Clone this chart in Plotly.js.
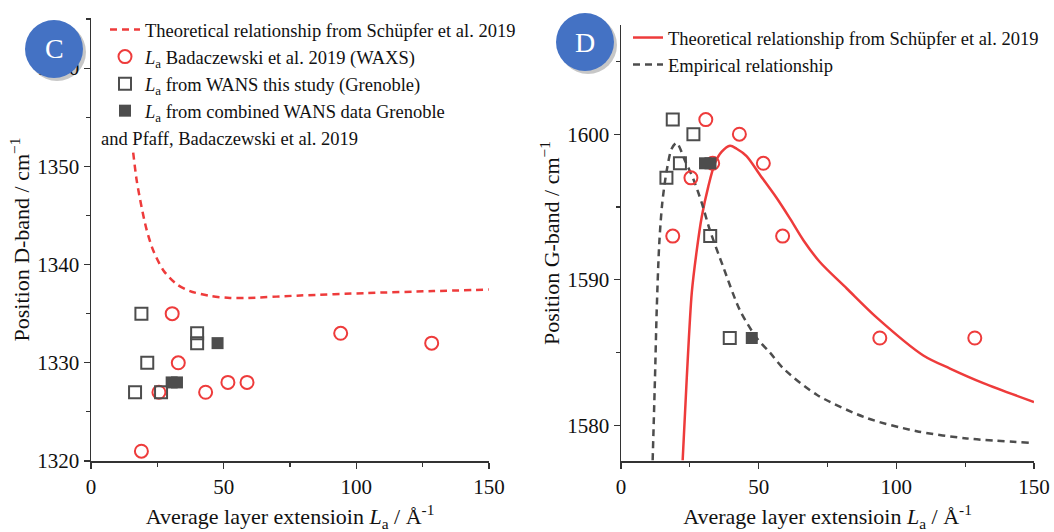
<!DOCTYPE html>
<html><head><meta charset="utf-8">
<script src="https://cdn.plot.ly/plotly-3.0.1.min.js"></script>
<style>html,body{margin:0;padding:0;background:#fff;}#chart{width:1054px;height:532px;}</style>
</head><body><div id="chart"></div>
<script>
// ---------- Panel C: D-band ----------
const dTheoX = [15.9, 17.2, 19.1, 21.0, 23.5, 27.3, 32.3, 37.3, 44.9, 52.4, 58.7, 78.8, 103.9, 129, 150];
const dTheoY = [1351.4, 1348.6, 1345.8, 1343.5, 1341.4, 1339.4, 1338.0, 1337.3, 1336.8, 1336.6, 1336.6, 1336.85, 1337.1, 1337.3, 1337.45];
const dWaxsX = [19.0, 25.6, 30.6, 32.9, 43.2, 51.6, 58.8, 94.1, 128.4];
const dWaxsY = [1321, 1327, 1335, 1330, 1327, 1328, 1328, 1333, 1332];
const dWansX = [16.6, 19.0, 21.2, 26.4, 40.0, 40.0];
const dWansY = [1327, 1335, 1330, 1327, 1333, 1332];
const dCombX = [30.4, 32.4, 47.7];
const dCombY = [1328, 1328, 1332];

// ---------- Panel D: G-band ----------
const gTheoX = [22.4, 23.9, 25.7, 27.5, 29.3, 31.7, 34.1, 36.6, 39.6, 42.0, 45.6, 50.5, 56.6, 61.4, 66.3, 72.3, 82.0, 92.9, 109.8, 119.5, 131.6, 150];
const gTheoY = [1577.6, 1583.3, 1589.1, 1592.0, 1594.3, 1596.4, 1598.0, 1598.8, 1599.2, 1599.0, 1598.5, 1597.2, 1595.6, 1594.2, 1592.7, 1591.2, 1589.4, 1587.4, 1584.8, 1583.9, 1582.9, 1581.6];
const gEmpX = [11.5, 12.35, 12.97, 13.9, 15.0, 16.6, 18.4, 20.2, 23.2, 26.3, 29.3, 32.3, 37.1, 43.2, 49.3, 54.1, 59.0, 71.1, 89.3, 107.4, 125.6, 148.6];
const gEmpY = [1577.6, 1583.3, 1587.9, 1592.5, 1595.3, 1597.5, 1599.0, 1599.4, 1598.2, 1596.9, 1595.3, 1593.4, 1590.9, 1587.9, 1586.0, 1585.0, 1583.9, 1582.1, 1580.5, 1579.6, 1579.1, 1578.8];
const gWaxsX = [18.8, 25.4, 30.8, 33.3, 43.0, 51.7, 58.7, 94.0, 128.5];
const gWaxsY = [1593, 1597, 1601, 1598, 1600, 1598, 1593, 1586, 1586];
const gWansX = [16.5, 18.8, 21.4, 26.3, 32.4, 39.5];
const gWansY = [1597, 1601, 1598, 1600, 1593, 1586];
const gCombX = [30.5, 32.5, 47.5];
const gCombY = [1598, 1598, 1586];

const RED = '#EE3B3B';
const GRAY = '#4D4D4D';
const FONT = 'Liberation Serif, Times New Roman, serif';

const circ = {symbol: 'circle-open', size: 13, color: RED, line: {width: 2, color: RED}};
const sqOpen = {symbol: 'square-open', size: 12, color: GRAY, line: {width: 2, color: GRAY}};
const sqFill = {symbol: 'square', size: 12, color: GRAY, line: {width: 0}};

const traces = [
  {x: dTheoX, y: dTheoY, mode: 'lines', line: {color: RED, width: 2.5, dash: '7px,5px', shape: 'spline', smoothing: 0.8},
   name: 'Theoretical relationship from Schüpfer et al. 2019', xaxis: 'x', yaxis: 'y', legend: 'legend', legendgroup: 'a'},
  {x: dWaxsX, y: dWaxsY, mode: 'markers', marker: circ,
   name: '<i>L</i><sub>a</sub> Badaczewski et al. 2019 (WAXS)', xaxis: 'x', yaxis: 'y', legend: 'legend', legendgroup: 'b'},
  {x: dWansX, y: dWansY, mode: 'markers', marker: sqOpen,
   name: '<i>L</i><sub>a</sub> from WANS this study (Grenoble)', xaxis: 'x', yaxis: 'y', legend: 'legend', legendgroup: 'c'},
  {x: dCombX, y: dCombY, mode: 'markers', marker: sqFill,
   name: '<i>L</i><sub>a</sub> from combined WANS data Grenoble', xaxis: 'x', yaxis: 'y', legend: 'legend', legendgroup: 'd'},

  {x: gTheoX, y: gTheoY, mode: 'lines', line: {color: RED, width: 2.5, shape: 'spline', smoothing: 0.8},
   name: 'Theoretical relationship from Schüpfer et al. 2019', xaxis: 'x2', yaxis: 'y2', legend: 'legend2', legendgroup: 'e'},
  {x: gEmpX, y: gEmpY, mode: 'lines', line: {color: GRAY, width: 2.5, dash: '7px,5px', shape: 'spline', smoothing: 0.8},
   name: 'Empirical relationship', xaxis: 'x2', yaxis: 'y2', legend: 'legend2', legendgroup: 'f'},
  {x: gWaxsX, y: gWaxsY, mode: 'markers', marker: circ, showlegend: false, xaxis: 'x2', yaxis: 'y2'},
  {x: gWansX, y: gWansY, mode: 'markers', marker: sqOpen, showlegend: false, xaxis: 'x2', yaxis: 'y2'},
  {x: gCombX, y: gCombY, mode: 'markers', marker: sqFill, showlegend: false, xaxis: 'x2', yaxis: 'y2'}
];

const W = 1054, H = 532;
const px = v => v / W, py = v => 1 - v / H;

const axCommon = {
  showgrid: false, zeroline: false, showline: true, linecolor: '#333', linewidth: 1.5,
  ticks: 'outside', ticklen: 6, tickwidth: 1.2, tickcolor: '#333',
  tickfont: {family: FONT, size: 21, color: '#111'},
  minor: {ticks: 'outside', ticklen: 4, tickwidth: 1.2, tickcolor: '#333', showgrid: false}
};

const xTitle = {text: 'Average layer extensioin <i>L</i><sub>a</sub> / Å<sup>-1</sup>', font: {family: FONT, size: 22, color: '#111'}, standoff: 14};

const layout = {
  width: W, height: H, margin: {l: 0, r: 0, t: 0, b: 0},
  paper_bgcolor: '#fff', plot_bgcolor: '#fff',
  font: {family: FONT, color: '#111'},
  xaxis: Object.assign({}, axCommon, {domain: [px(91), px(489)], range: [0, 150], dtick: 50, tick0: 0,
    minor: Object.assign({}, axCommon.minor, {dtick: 25}), anchor: 'y', title: xTitle}),
  yaxis: Object.assign({}, axCommon, {domain: [py(461), py(18)], range: [1320, 1365.1], dtick: 10, tick0: 1320,
    minor: Object.assign({}, axCommon.minor, {dtick: 5}), anchor: 'x',
    title: {text: 'Position D-band / cm<sup>−1</sup>', font: {family: FONT, size: 22, color: '#111'}, standoff: 1}}),
  xaxis2: Object.assign({}, axCommon, {domain: [px(621), px(1034)], range: [0, 150], dtick: 50, tick0: 0,
    minor: Object.assign({}, axCommon.minor, {dtick: 25}), anchor: 'y2', title: xTitle}),
  yaxis2: Object.assign({}, axCommon, {domain: [py(461), py(25)], range: [1577.55, 1607.5], dtick: 10, tick0: 1580,
    minor: Object.assign({}, axCommon.minor, {dtick: 5}), anchor: 'x2',
    title: {text: 'Position G-band / cm<sup>−1</sup>', font: {family: FONT, size: 22, color: '#111'}, standoff: 1}}),
  legend: {x: px(105), y: py(11), xanchor: 'left', yanchor: 'top', bgcolor: 'rgba(0,0,0,0)',
    font: {family: FONT, size: 18.5, color: '#111'}, tracegroupgap: 0, itemwidth: 30},
  legend2: {x: px(628), y: py(19), xanchor: 'left', yanchor: 'top', bgcolor: 'rgba(0,0,0,0)',
    font: {family: FONT, size: 18.5, color: '#111'}, tracegroupgap: 0, itemwidth: 30},
  shapes: [
    {type: 'circle', xref: 'paper', yref: 'paper', x0: px(28), x1: px(86), y0: py(23), y1: py(81),
      fillcolor: 'rgba(0,0,0,0.22)', line: {width: 0}, layer: 'above'},
    {type: 'circle', xref: 'paper', yref: 'paper', x0: px(25), x1: px(83), y0: py(20), y1: py(78),
      fillcolor: '#4472C4', line: {width: 0}, layer: 'above'},
    {type: 'circle', xref: 'paper', yref: 'paper', x0: px(559), x1: px(617), y0: py(16), y1: py(74),
      fillcolor: 'rgba(0,0,0,0.22)', line: {width: 0}, layer: 'above'},
    {type: 'circle', xref: 'paper', yref: 'paper', x0: px(556), x1: px(614), y0: py(13), y1: py(71),
      fillcolor: '#4472C4', line: {width: 0}, layer: 'above'}
  ],
  annotations: [
    {text: 'C', xref: 'paper', yref: 'paper', x: px(54), y: py(49), showarrow: false,
      font: {family: FONT, size: 28, color: '#fff'}, xanchor: 'center', yanchor: 'middle'},
    {text: 'D', xref: 'paper', yref: 'paper', x: px(585), y: py(42), showarrow: false,
      font: {family: FONT, size: 28, color: '#fff'}, xanchor: 'center', yanchor: 'middle'},
    {text: 'and Pfaff, Badaczewski et al. 2019', xref: 'paper', yref: 'paper', x: px(99), y: py(139), showarrow: false,
      font: {family: FONT, size: 18.5, color: '#111'}, xanchor: 'left', yanchor: 'middle'}
  ]
};

Plotly.newPlot('chart', traces, layout, {displayModeBar: false, staticPlot: true});
</script></body></html>
